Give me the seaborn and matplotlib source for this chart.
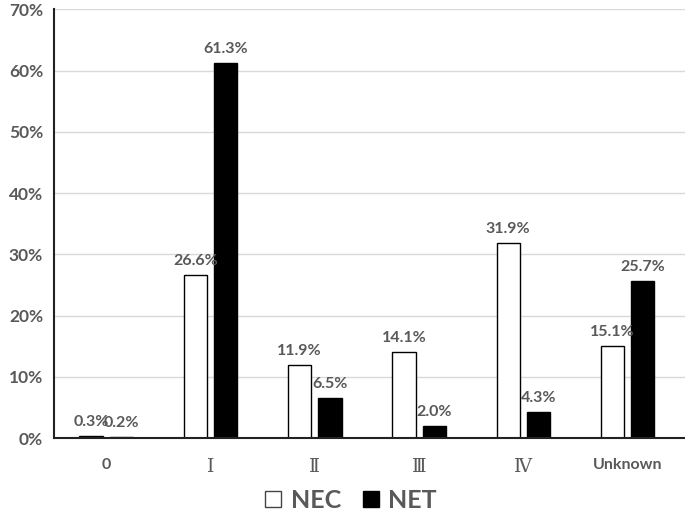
import matplotlib
matplotlib.use("Agg")
import matplotlib.pyplot as plt
import seaborn as sns
import pandas as pd
from matplotlib.lines import Line2D

categories = ["0", "Ⅰ", "Ⅱ", "Ⅲ", "Ⅳ", "Unknown"]
series_names = ["NEC", "NET"]
nec_values = [0.3, 26.6, 11.9, 14.1, 31.9, 15.1]
net_values = [0.2, 61.3, 6.5, 2.0, 4.3, 25.7]
y_ticks = [0, 10, 20, 30, 40, 50, 60, 70]

df = pd.DataFrame({
    "stage": categories * 2,
    "group": [series_names[0]] * len(categories) + [series_names[1]] * len(categories),
    "value": nec_values + net_values,
})

sns.set_theme(style="white")
plt.rcParams["font.family"] = ["Lato", "DejaVu Sans"]
gray = "#595959"

fig = plt.figure(figsize=(6.85, 5.13), dpi=100)
ax = fig.add_axes([0.079, 0.146, 0.921, 0.836])

sns.barplot(data=df, x="stage", y="value", hue="group", order=categories,
            hue_order=series_names, palette={"NEC": "white", "NET": "black"},
            width=0.58, gap=0.23, edgecolor="black", linewidth=1.0,
            errorbar=None, legend=False, ax=ax)

ax.set_ylim(0, 70)
ax.set_xlim(-0.5, 5.55)
ax.set_yticks(y_ticks)
ax.set_yticklabels([f"{t}%" for t in y_ticks], fontsize=12.5, fontweight="bold", color=gray)
ax.yaxis.grid(True, color="#d9d9d9", linewidth=1.0)
ax.set_axisbelow(True)
ax.set_xlabel("")
ax.set_ylabel("")
for s in ["top", "right"]:
    ax.spines[s].set_visible(False)
for s in ["left", "bottom"]:
    ax.spines[s].set_color("#222222")
    ax.spines[s].set_linewidth(1.5)
ax.tick_params(axis="y", length=0, pad=8)
ax.tick_params(axis="x", length=0, pad=14)

ax.set_xticks(range(len(categories)))
ax.set_xticklabels(categories)
for lbl in ax.get_xticklabels():
    if lbl.get_text() in ("0", "Unknown"):
        lbl.set_fontfamily(["Lato", "DejaVu Sans"])
        lbl.set_fontweight("bold")
        lbl.set_fontsize(11.5)
        lbl.set_color(gray)
    else:
        lbl.set_fontfamily(["DejaVu Serif", "DejaVu Sans"])
        lbl.set_fontweight("normal")
        lbl.set_fontsize(13.5)
        lbl.set_color(gray)

for cont in ax.containers:
    ax.bar_label(cont, labels=[f"{v:.1f}%" for v in cont.datavalues],
                 padding=5, fontsize=11.5, fontweight="bold", color=gray)

handles = [
    Line2D([0], [0], marker="s", linestyle="", markersize=12,
           markerfacecolor="white", markeredgecolor="#444444", markeredgewidth=1.0),
    Line2D([0], [0], marker="s", linestyle="", markersize=12,
           markerfacecolor="black", markeredgecolor="black"),
]
fig.legend(handles, series_names, loc="center", bbox_to_anchor=(0.511, 0.025),
           ncol=2, frameon=False, handlelength=0.8, handletextpad=0.3,
           columnspacing=0.8, borderpad=0.0,
           prop={"family": ["Lato", "DejaVu Sans"], "weight": "bold", "size": 18},
           labelcolor=gray)

fig.savefig("out.png", dpi=100)
